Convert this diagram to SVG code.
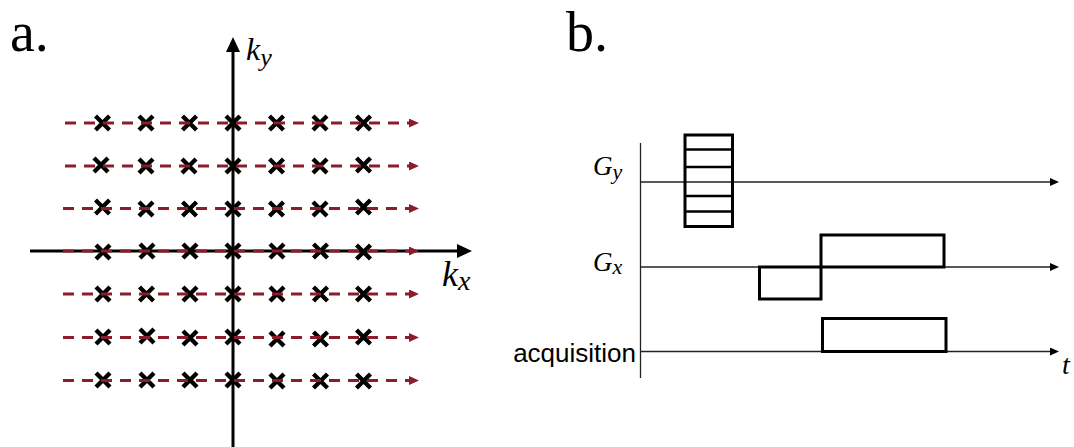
<svg xmlns="http://www.w3.org/2000/svg" xmlns:xlink="http://www.w3.org/1999/xlink" width="1074" height="447" viewBox="0 0 1074 447">
  <style>
    .panel { font-family: "Liberation Serif", "DejaVu Serif", serif; font-size: 56px; fill: #000; }
    .math { font-family: "Liberation Serif", "DejaVu Serif", serif; font-style: italic; fill: #000; }
    .sans { font-family: "Liberation Sans", Arial, sans-serif; fill: #000; }
    .axis { stroke: #000; stroke-width: 3; fill: none; }
    .row { stroke: #8c1c2c; stroke-width: 2.8; stroke-dasharray: 11 8; fill: none; }
    .cross { stroke: #000; stroke-width: 4.3; fill: none; }
    .thin { stroke: #222; stroke-width: 1.3; fill: none; }
    .pulse { stroke: #000; stroke-width: 3; fill: none; }
    .rung { stroke: #000; stroke-width: 2.6; fill: none; }
  </style>
  <defs>
    <marker id="blackHead" markerUnits="userSpaceOnUse" markerWidth="15" markerHeight="14" refX="1" refY="7" orient="auto" viewBox="0 0 15 14">
      <path d="M0,0 L15,7 L0,14 z" fill="#000"/>
    </marker>
    <marker id="redHead" markerUnits="userSpaceOnUse" markerWidth="10" markerHeight="9" refX="0" refY="4.5" orient="auto" viewBox="0 0 10 9">
      <path d="M0,0 L10,4.5 L0,9 z" fill="#8c1c2c"/>
    </marker>
    <marker id="thinHead" markerUnits="userSpaceOnUse" markerWidth="9" markerHeight="8" refX="0" refY="4" orient="auto" viewBox="0 0 9 8">
      <path d="M0,0 L9,4 L0,8 z" fill="#000"/>
    </marker>
    <path id="x" d="M-7,-7 L7,7 M-7,7 L7,-7" class="cross"/>
  </defs>

  <!-- Panel a -->
  <g id="panel-a">
    <text class="panel" x="10" y="51">a.</text>
    <g id="axes-a">
      <line class="axis" x1="233" y1="447" x2="233" y2="51" marker-end="url(#blackHead)"/>
      <line class="axis" x1="30" y1="251" x2="458" y2="251" marker-end="url(#blackHead)"/>
    </g>
    <text class="math" x="246" y="60" font-size="32">k<tspan font-size="26" dy="6">y</tspan></text>
    <text class="math" x="442" y="286" font-size="36">k<tspan font-size="28" dy="4">x</tspan></text>
    <g id="samples">
      <g id="row1">
        <use xlink:href="#x" x="102.5" y="123"/><use xlink:href="#x" x="146" y="123"/><use xlink:href="#x" x="189.5" y="123"/><use xlink:href="#x" x="233" y="123"/><use xlink:href="#x" x="276.5" y="123"/><use xlink:href="#x" x="320" y="123"/><use xlink:href="#x" x="363.5" y="123"/>
      </g>
      <g id="row2">
        <use xlink:href="#x" x="101" y="165"/><use xlink:href="#x" x="146" y="166"/><use xlink:href="#x" x="189" y="166"/><use xlink:href="#x" x="233" y="166"/><use xlink:href="#x" x="276.5" y="166"/><use xlink:href="#x" x="320" y="166"/><use xlink:href="#x" x="363.5" y="165"/>
      </g>
      <g id="row3">
        <use xlink:href="#x" x="102.5" y="207"/><use xlink:href="#x" x="146" y="209"/><use xlink:href="#x" x="189.5" y="209"/><use xlink:href="#x" x="233" y="209"/><use xlink:href="#x" x="276.5" y="209"/><use xlink:href="#x" x="320" y="209"/><use xlink:href="#x" x="363.5" y="207"/>
      </g>
      <g id="row4">
        <use xlink:href="#x" x="103" y="252"/><use xlink:href="#x" x="147" y="251"/><use xlink:href="#x" x="190" y="251"/><use xlink:href="#x" x="233" y="251"/><use xlink:href="#x" x="277" y="251"/><use xlink:href="#x" x="320.5" y="251"/><use xlink:href="#x" x="363.5" y="252"/>
      </g>
      <g id="row5">
        <use xlink:href="#x" x="103" y="294"/><use xlink:href="#x" x="146.5" y="294"/><use xlink:href="#x" x="190" y="294"/><use xlink:href="#x" x="233" y="294"/><use xlink:href="#x" x="277" y="294"/><use xlink:href="#x" x="320.5" y="294"/><use xlink:href="#x" x="363.5" y="294"/>
      </g>
      <g id="row6">
        <use xlink:href="#x" x="103" y="337"/><use xlink:href="#x" x="147" y="336"/><use xlink:href="#x" x="190" y="338"/><use xlink:href="#x" x="233" y="337"/><use xlink:href="#x" x="277" y="339"/><use xlink:href="#x" x="320.5" y="339"/><use xlink:href="#x" x="363.5" y="337"/>
      </g>
      <g id="row7">
        <use xlink:href="#x" x="103" y="380"/><use xlink:href="#x" x="147" y="380"/><use xlink:href="#x" x="190" y="380"/><use xlink:href="#x" x="233" y="380"/><use xlink:href="#x" x="277" y="381"/><use xlink:href="#x" x="320.5" y="381"/><use xlink:href="#x" x="363.5" y="381"/>
      </g>
    </g>
    <g id="connectors-a">
      <line class="row" x1="65" y1="123" x2="409" y2="123" marker-end="url(#redHead)"/>
      <line class="row" x1="65" y1="166" x2="409" y2="166" marker-end="url(#redHead)"/>
      <line class="row" x1="63" y1="208.5" x2="409" y2="208.5" marker-end="url(#redHead)"/>
      <line class="row" x1="63" y1="251" x2="409" y2="251" marker-end="url(#redHead)"/>
      <line class="row" x1="63" y1="294" x2="409" y2="294" marker-end="url(#redHead)"/>
      <line class="row" x1="63" y1="337.5" x2="409" y2="337.5" marker-end="url(#redHead)"/>
      <line class="row" x1="63" y1="380.5" x2="409" y2="380.5" marker-end="url(#redHead)"/>
    </g>
  </g>

  <!-- Panel b -->
  <g id="panel-b">
    <text class="panel" x="566" y="51">b.</text>
    <g id="axes-b">
      <line class="thin" x1="640.5" y1="143" x2="640.5" y2="378"/>
      <line class="thin" x1="640.5" y1="182" x2="1050" y2="182" marker-end="url(#thinHead)"/>
      <line class="thin" x1="640.5" y1="267" x2="1050" y2="267" marker-end="url(#thinHead)"/>
      <line class="thin" x1="640.5" y1="351.5" x2="1050" y2="351.5" marker-end="url(#thinHead)"/>
    </g>
    <text class="math" x="593" y="175" font-size="27">G<tspan font-size="22" dy="4">y</tspan></text>
    <text class="math" x="593" y="271" font-size="27">G<tspan font-size="22" dy="3">x</tspan></text>
    <text class="sans" x="636" y="362" font-size="26" text-anchor="end">acquisition</text>
    <text class="math" x="1062" y="374" font-size="28">t</text>
    <g id="gy-pulse">
      <rect class="pulse" x="685" y="135" width="47.5" height="91.5"/>
      <line class="rung" x1="685" y1="149.5" x2="732.5" y2="149.5"/>
      <line class="rung" x1="685" y1="167" x2="732.5" y2="167"/>
      <line class="rung" x1="685" y1="196" x2="732.5" y2="196"/>
      <line class="rung" x1="685" y1="211.5" x2="732.5" y2="211.5"/>
    </g>
    <g id="gx-pulse">
      <rect class="pulse" x="759.5" y="267" width="61.5" height="32"/>
      <rect class="pulse" x="821" y="235" width="123" height="32"/>
    </g>
    <g id="acq-pulse">
      <rect class="pulse" x="822.5" y="318.5" width="123.5" height="33"/>
    </g>
  </g>
</svg>
